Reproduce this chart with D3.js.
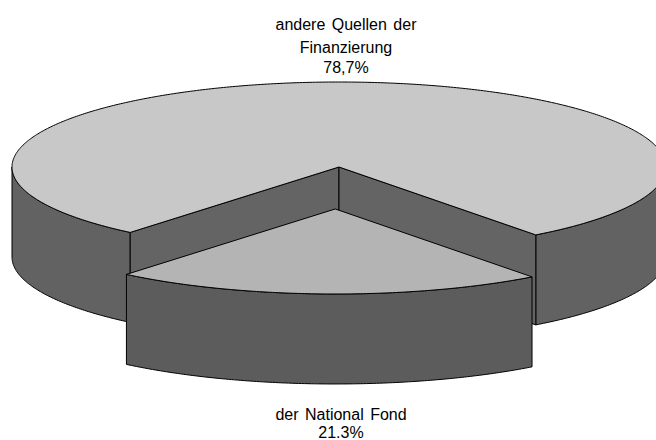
<!DOCTYPE html>
<html>
<head>
<meta charset="utf-8">
<script src="https://d3js.org/d3.v7.min.js"></script>
<style>
  body { margin: 0; background: #fff; }
  svg { display: block; }
  text { font-family: "Liberation Sans", Arial, sans-serif; font-size: 16px; fill: #000; }
</style>
</head>
<body>
<div id="chart"></div>
<script>
// data
const categories = ["der National Fond", "andere Quellen der Finanzierung"];
const shares = [21.3, 78.7];
const labelLines = [
  ["der National Fond", "21.3%"],
  ["andere Quellen der", "Finanzierung", "78,7%"]
];
const exploded = [true, false];

// size of plot
const width = 656;
const height = 440;

// pie geometry (ellipse seen from above-front)
const cx = 339, cy = 167;
const rx = 327, ry = 85;
const depth = 90;
const explodeFrac = 0.494;
const startDeg = 143;

const topFill = ["#b4b4b4", "#c8c8c8"];
const sideFill = ["#5c5c5c", "#626262"];
const cutFill = "#646464";

const svg = d3.select("#chart")
  .append("svg")
  .attr("width", width)
  .attr("height", height);

const pie = d3.pie()
  .sort(null)
  .startAngle(startDeg * Math.PI / 180)
  .endAngle(startDeg * Math.PI / 180 + 2 * Math.PI);

const arcs = pie(shares);

// point on the rim, d3 angle (clockwise from 12 o'clock)
function pt(a, ox, oy, z) {
  return [cx + ox + rx * Math.sin(a), cy + oy - ry * Math.cos(a) + z];
}

function arcPts(a0, a1, ox, oy, z) {
  const n = Math.max(2, Math.ceil(Math.abs(a1 - a0) / 0.01));
  return d3.range(n + 1).map(i => pt(a0 + (a1 - a0) * i / n, ox, oy, z));
}

const line = d3.line();

function frontRanges(a0, a1) {
  // visible front half: 90deg..270deg (and +360)
  const out = [];
  [[Math.PI / 2, 3 * Math.PI / 2], [Math.PI / 2 + 2 * Math.PI, 3 * Math.PI / 2 + 2 * Math.PI]].forEach(([f0, f1]) => {
    const s = Math.max(a0, f0), e = Math.min(a1, f1);
    if (e > s) out.push([s, e]);
  });
  return out;
}

function offset(d, i) {
  if (!exploded[i]) return [0, 0];
  const m = (d.startAngle + d.endAngle) / 2;
  return [explodeFrac * rx * Math.sin(m), -explodeFrac * ry * Math.cos(m)];
}

// draw the big slice first, exploded slice on top
const order = d3.range(arcs.length).sort((a, b) => exploded[a] - exploded[b]);

order.forEach(i => {
  const d = arcs[i];
  const [ox, oy] = offset(d, i);
  const g = svg.append("g")
    .attr("stroke", "#000")
    .attr("stroke-width", 1)
    .attr("stroke-linejoin", "round");

  // outer walls
  frontRanges(d.startAngle, d.endAngle).forEach(([s, e]) => {
    const pts = arcPts(s, e, ox, oy, 0).concat(arcPts(e, s, ox, oy, depth));
    g.append("path")
      .attr("d", line(pts) + "Z")
      .attr("fill", sideFill[i]);
  });

  // inner cut walls (only seen on the slice that keeps its place)
  if (!exploded[i]) {
    [d.startAngle, d.endAngle].forEach(a => {
      const c = [cx + ox, cy + oy];
      const p = pt(a, ox, oy, 0);
      const pts = [c, p, [p[0], p[1] + depth], [c[0], c[1] + depth]];
      g.append("path")
        .attr("d", line(pts) + "Z")
        .attr("fill", cutFill);
    });
  }

  // top face
  const topPts = [[cx + ox, cy + oy]].concat(arcPts(d.startAngle, d.endAngle, ox, oy, 0));
  g.append("path")
    .attr("d", line(topPts) + "Z")
    .attr("fill", topFill[i]);
});

// labels
const labelPos = [
  { x: 341, y: [420, 438] },
  { x: 346, y: [30, 53, 73] }
];

labelLines.forEach((lines, i) => {
  lines.forEach((t, k) => {
    svg.append("text")
      .attr("x", labelPos[i].x)
      .attr("y", labelPos[i].y[k])
      .attr("text-anchor", "middle")
      .style("word-spacing", "2px")
      .text(t);
  });
});
</script>
</body>
</html>
